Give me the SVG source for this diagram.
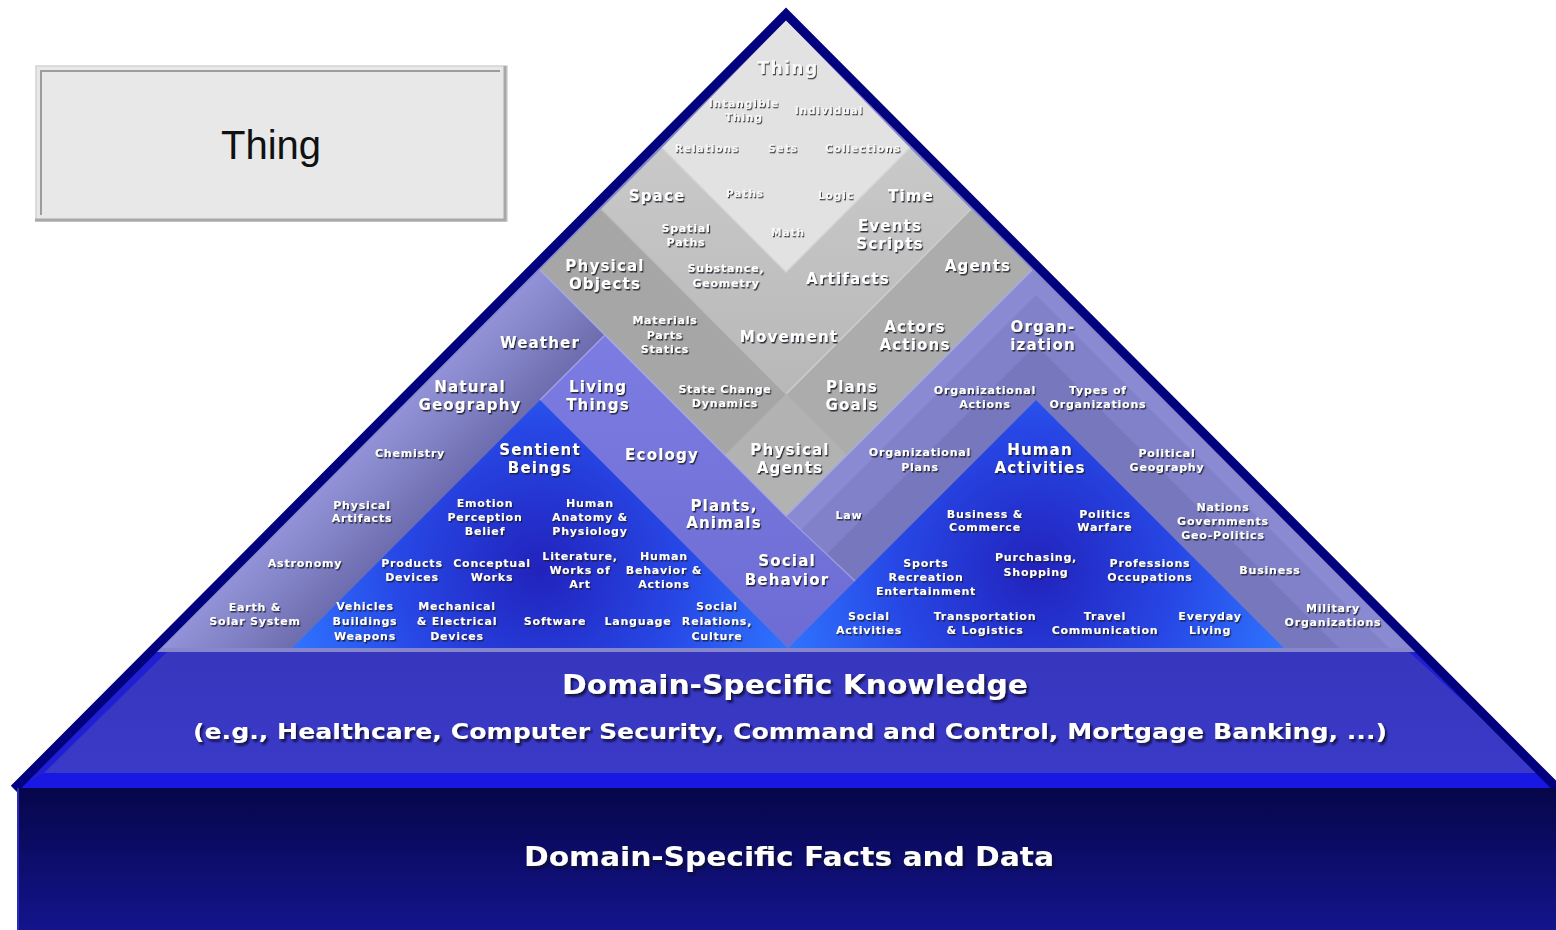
<svg xmlns="http://www.w3.org/2000/svg" width="1556" height="930" viewBox="0 0 1556 930">
<defs>
<style>
text{font-family:"DejaVu Sans",Verdana,sans-serif;font-weight:bold;text-anchor:middle}
.b{font-size:15px;letter-spacing:1.2px;fill:#ffffff;filter:url(#sh)}
.s{font-size:11px;letter-spacing:0.8px;fill:#ffffff;filter:url(#sh)}
.lb{font-size:17px;letter-spacing:1.5px;fill:#f8f8f8;filter:url(#sh2)}
.ls{font-size:10.5px;letter-spacing:1px;fill:#f8f8f8;filter:url(#sh2)}
.dom{fill:#ffffff;filter:url(#sh3)}
.thing{font-family:"Liberation Sans",Arial,sans-serif;font-weight:normal;font-size:40px;fill:#111111}
.edge{fill:none;stroke-width:1.5}
</style>
<filter id="sh" x="-20%" y="-50%" width="140%" height="200%"><feDropShadow dx="1.2" dy="1.5" stdDeviation="0.35" flood-color="#1c1c2c" flood-opacity="0.9"/></filter>
<filter id="sh2" x="-20%" y="-50%" width="140%" height="200%"><feDropShadow dx="1" dy="1.3" stdDeviation="0.3" flood-color="#3a3a3a" flood-opacity="0.95"/></filter>
<filter id="sh3" x="-10%" y="-50%" width="120%" height="200%"><feDropShadow dx="2" dy="2.5" stdDeviation="0.8" flood-color="#0a0a30" flood-opacity="0.95"/></filter>
<linearGradient id="gStrip" gradientUnits="userSpaceOnUse" x1="405" y1="405" x2="470" y2="470">
<stop offset="0" stop-color="#9292d8"/><stop offset="0.5" stop-color="#8080c4"/><stop offset="1" stop-color="#6c6cae"/>
</linearGradient>
<linearGradient id="gLav" x1="0" y1="0" x2="0" y2="1">
<stop offset="0" stop-color="#7c7ce2"/><stop offset="1" stop-color="#6c6cd4"/>
</linearGradient>
<linearGradient id="gGray" gradientUnits="userSpaceOnUse" x1="0" y1="120" x2="0" y2="460">
<stop offset="0" stop-color="#cbcbcb"/><stop offset="1" stop-color="#b3b3b3"/>
</linearGradient>
<radialGradient id="gBlueL" gradientUnits="userSpaceOnUse" cx="540" cy="570" r="260">
<stop offset="0" stop-color="#2222bc"/><stop offset="0.55" stop-color="#2748e6"/><stop offset="1" stop-color="#2f74ff"/>
</radialGradient>
<radialGradient id="gBlueR" gradientUnits="userSpaceOnUse" cx="1036" cy="570" r="260">
<stop offset="0" stop-color="#2222bc"/><stop offset="0.55" stop-color="#2748e6"/><stop offset="1" stop-color="#2f74ff"/>
</radialGradient>
<linearGradient id="gPanel" x1="0" y1="0" x2="0" y2="1">
<stop offset="0" stop-color="#3636be"/><stop offset="1" stop-color="#3a3ac8"/>
</linearGradient>
<linearGradient id="gBase" x1="0" y1="0" x2="0" y2="1">
<stop offset="0" stop-color="#06064a"/><stop offset="1" stop-color="#14148e"/>
</linearGradient>
<clipPath id="cpRP"><polygon points="1032,270 1410,648 1284,648 1036,400 855,581 786,516"/></clipPath>
</defs>

<rect x="0" y="0" width="1556" height="930" fill="#ffffff"/>

<g id="legend-thing">
<rect x="36" y="66" width="471" height="155" fill="#e8e8e8" stroke="#d2d2d2" stroke-width="1.5"/>
<polyline points="41,215 41,71 500,71" fill="none" stroke="#9c9c9c" stroke-width="2"/>
<polyline points="35,220 505,220 505,66" fill="none" stroke="#a8a8a8" stroke-width="3"/>
<text class="thing" x="271" y="159">Thing</text>
</g>

<g id="domain-knowledge-band">
<polygon points="156,648 1416,648 1556,788 14,788" fill="#2020d2"/>
<polygon points="168,651 1408,651 1542,773 44,773" fill="url(#gPanel)"/>
<polygon points="44,773 1542,773 1556,788 14,788" fill="#1818e2"/>
</g>

<g id="ontology-regions">
<polygon points="786,16 150,652 1422,652" fill="#8686cc"/>
<polygon id="r-left-strip" points="540,270 605,335 292,648 162,648" fill="url(#gStrip)"/>
<polygon id="r-left-lavender" points="605,335 786,516 855,581 788,648 540,400" fill="url(#gLav)"/>
<g id="r-right-purple" clip-path="url(#cpRP)">
<polygon points="1032,270 1410,648 1284,648 1036,400 855,581 786,516" fill="#8a8ad2"/>
<polygon points="1036,295 1389,648 683,648" fill="#8181c9"/>
<polygon points="1036,345 1339,648 733,648" fill="#7777bd"/>
</g>
<polygon id="r-gray" points="540,270 786,24 1032,270 786,516" fill="url(#gGray)"/>
<polygon id="r-gray-ll" points="540,270 601,209 847,455 786,516" fill="#a6a6a6"/>
<polygon id="r-gray-lr" points="1032,270 971,209 725,455 786,516" fill="#acacac"/>
<polygon id="r-gray-bottom" points="786,394 847,455 786,516 725,455" fill="#b2b2b2"/>
<polygon id="r-light" points="786,20 662,148 786,272 910,148" fill="#e2e2e2"/>
<polygon id="r-blue-left" points="540,400 788,648 292,648" fill="url(#gBlueL)"/>
<polygon id="r-blue-right" points="1036,400 1284,648 788,648" fill="url(#gBlueR)"/>
</g>

<g id="boundary-lines">
<polyline class="edge" points="662,148 786,272 910,148" stroke="#d4d4d4"/>
<line class="edge" x1="971" y1="209" x2="786" y2="394" stroke="#cdcdcd"/>
<line class="edge" x1="601" y1="209" x2="786" y2="394" stroke="#b9b9b9"/>
<polyline class="edge" points="540,270 786,516 1032,270" stroke="#a8a8e6"/>
<line class="edge" x1="786" y1="516" x2="855" y2="581" stroke="#9a9ae0"/>
<line class="edge" x1="605" y1="335" x2="540" y2="400" stroke="#a0a0ea"/>
</g>

<polyline id="pyramid-outline" points="14,789 786,14 1558,789" fill="none" stroke="#02027e" stroke-width="9" stroke-linejoin="miter"/>

<g id="domain-facts-base">
<rect x="17" y="788" width="1545" height="145" fill="url(#gBase)"/>
<line x1="18" y1="788" x2="18" y2="930" stroke="#2a2ab8" stroke-width="2"/>
</g>

<g id="labels-light">
<g id="n-thing"><text class="lb" x="788" y="74">Thing</text></g>
<g id="n-intangible"><text class="ls" x="744" y="107"><tspan x="744">Intangible</tspan><tspan x="744" dy="14">Thing</tspan></text></g>
<g id="n-individual"><text class="ls" x="829" y="114">Individual</text></g>
<g id="n-relations"><text class="ls" x="707" y="152">Relations</text></g>
<g id="n-sets"><text class="ls" x="783" y="152">Sets</text></g>
<g id="n-collections"><text class="ls" x="863" y="152">Collections</text></g>
<g id="n-paths"><text class="ls" x="745" y="197">Paths</text></g>
<g id="n-logic"><text class="ls" x="836" y="199">Logic</text></g>
<g id="n-math"><text class="ls" x="788" y="236">Math</text></g>
</g>

<g id="labels-gray">
<g id="n-space"><text class="b" x="657" y="201">Space</text></g>
<g id="n-time"><text class="b" x="911" y="201">Time</text></g>
<g id="n-spatial-paths"><text class="s" x="686" y="232"><tspan x="686">Spatial</tspan><tspan x="686" dy="14">Paths</tspan></text></g>
<g id="n-events"><text class="b" x="890" y="231"><tspan x="890">Events</tspan><tspan x="890" dy="18">Scripts</tspan></text></g>
<g id="n-physical-objects"><text class="b" x="605" y="271"><tspan x="605">Physical</tspan><tspan x="605" dy="18">Objects</tspan></text></g>
<g id="n-substance"><text class="s" x="726" y="272"><tspan x="726">Substance,</tspan><tspan x="726" dy="15">Geometry</tspan></text></g>
<g id="n-artifacts"><text class="b" x="848" y="284">Artifacts</text></g>
<g id="n-agents"><text class="b" x="978" y="271">Agents</text></g>
<g id="n-materials"><text class="s" x="665" y="324"><tspan x="665">Materials</tspan><tspan x="665" dy="15">Parts</tspan><tspan x="665" dy="14">Statics</tspan></text></g>
<g id="n-movement"><text class="b" x="789" y="342">Movement</text></g>
<g id="n-actors"><text class="b" x="915" y="332"><tspan x="915">Actors</tspan><tspan x="915" dy="18">Actions</tspan></text></g>
<g id="n-state-change"><text class="s" x="725" y="393"><tspan x="725">State Change</tspan><tspan x="725" dy="14">Dynamics</tspan></text></g>
<g id="n-plans-goals"><text class="b" x="852" y="392"><tspan x="852">Plans</tspan><tspan x="852" dy="18">Goals</tspan></text></g>
<g id="n-physical-agents"><text class="b" x="790" y="455"><tspan x="790">Physical</tspan><tspan x="790" dy="18">Agents</tspan></text></g>
</g>

<g id="labels-purple-blue">
<g id="n-organization"><text class="b" x="1043" y="332"><tspan x="1043">Organ-</tspan><tspan x="1043" dy="18">ization</tspan></text></g>
<g id="n-weather"><text class="b" x="540" y="348">Weather</text></g>
<g id="n-natural-geography"><text class="b" x="470" y="392"><tspan x="470">Natural</tspan><tspan x="470" dy="18">Geography</tspan></text></g>
<g id="n-living-things"><text class="b" x="598" y="392"><tspan x="598">Living</tspan><tspan x="598" dy="18">Things</tspan></text></g>
<g id="n-org-actions"><text class="s" x="985" y="394"><tspan x="985">Organizational</tspan><tspan x="985" dy="14">Actions</tspan></text></g>
<g id="n-types-org"><text class="s" x="1098" y="394"><tspan x="1098">Types of</tspan><tspan x="1098" dy="14">Organizations</tspan></text></g>
<g id="n-chemistry"><text class="s" x="410" y="457">Chemistry</text></g>
<g id="n-sentient"><text class="b" x="540" y="455"><tspan x="540">Sentient</tspan><tspan x="540" dy="18">Beings</tspan></text></g>
<g id="n-ecology"><text class="b" x="662" y="460">Ecology</text></g>
<g id="n-org-plans"><text class="s" x="920" y="456"><tspan x="920">Organizational</tspan><tspan x="920" dy="15">Plans</tspan></text></g>
<g id="n-human-activities"><text class="b" x="1040" y="455"><tspan x="1040">Human</tspan><tspan x="1040" dy="18">Activities</tspan></text></g>
<g id="n-political-geography"><text class="s" x="1167" y="457"><tspan x="1167">Political</tspan><tspan x="1167" dy="14">Geography</tspan></text></g>
<g id="n-physical-artifacts"><text class="s" x="362" y="509"><tspan x="362">Physical</tspan><tspan x="362" dy="13">Artifacts</tspan></text></g>
<g id="n-emotion"><text class="s" x="485" y="507"><tspan x="485">Emotion</tspan><tspan x="485" dy="14">Perception</tspan><tspan x="485" dy="14">Belief</tspan></text></g>
<g id="n-anatomy"><text class="s" x="590" y="507"><tspan x="590">Human</tspan><tspan x="590" dy="14">Anatomy &amp;</tspan><tspan x="590" dy="14">Physiology</tspan></text></g>
<g id="n-plants"><text class="b" x="724" y="511"><tspan x="724">Plants,</tspan><tspan x="724" dy="17">Animals</tspan></text></g>
<g id="n-law"><text class="s" x="849" y="519">Law</text></g>
<g id="n-business-commerce"><text class="s" x="985" y="518"><tspan x="985">Business &amp;</tspan><tspan x="985" dy="13">Commerce</tspan></text></g>
<g id="n-politics"><text class="s" x="1105" y="518"><tspan x="1105">Politics</tspan><tspan x="1105" dy="13">Warfare</tspan></text></g>
<g id="n-nations"><text class="s" x="1223" y="511"><tspan x="1223">Nations</tspan><tspan x="1223" dy="14">Governments</tspan><tspan x="1223" dy="14">Geo-Politics</tspan></text></g>
<g id="n-astronomy"><text class="s" x="305" y="567">Astronomy</text></g>
<g id="n-products"><text class="s" x="412" y="567"><tspan x="412">Products</tspan><tspan x="412" dy="14">Devices</tspan></text></g>
<g id="n-conceptual"><text class="s" x="492" y="567"><tspan x="492">Conceptual</tspan><tspan x="492" dy="14">Works</tspan></text></g>
<g id="n-literature"><text class="s" x="580" y="560"><tspan x="580">Literature,</tspan><tspan x="580" dy="14">Works of</tspan><tspan x="580" dy="14">Art</tspan></text></g>
<g id="n-human-behavior"><text class="s" x="664" y="560"><tspan x="664">Human</tspan><tspan x="664" dy="14">Behavior &amp;</tspan><tspan x="664" dy="14">Actions</tspan></text></g>
<g id="n-social-behavior"><text class="b" x="787" y="566"><tspan x="787">Social</tspan><tspan x="787" dy="19">Behavior</tspan></text></g>
<g id="n-sports"><text class="s" x="926" y="567"><tspan x="926">Sports</tspan><tspan x="926" dy="14">Recreation</tspan><tspan x="926" dy="14">Entertainment</tspan></text></g>
<g id="n-purchasing"><text class="s" x="1036" y="561"><tspan x="1036">Purchasing,</tspan><tspan x="1036" dy="15">Shopping</tspan></text></g>
<g id="n-professions"><text class="s" x="1150" y="567"><tspan x="1150">Professions</tspan><tspan x="1150" dy="14">Occupations</tspan></text></g>
<g id="n-business"><text class="s" x="1270" y="574">Business</text></g>
<g id="n-earth"><text class="s" x="255" y="611"><tspan x="255">Earth &amp;</tspan><tspan x="255" dy="14">Solar System</tspan></text></g>
<g id="n-vehicles"><text class="s" x="365" y="610"><tspan x="365">Vehicles</tspan><tspan x="365" dy="15">Buildings</tspan><tspan x="365" dy="15">Weapons</tspan></text></g>
<g id="n-mechanical"><text class="s" x="457" y="610"><tspan x="457">Mechanical</tspan><tspan x="457" dy="15">&amp; Electrical</tspan><tspan x="457" dy="15">Devices</tspan></text></g>
<g id="n-software"><text class="s" x="555" y="625">Software</text></g>
<g id="n-language"><text class="s" x="638" y="625">Language</text></g>
<g id="n-social-relations"><text class="s" x="717" y="610"><tspan x="717">Social</tspan><tspan x="717" dy="15">Relations,</tspan><tspan x="717" dy="15">Culture</tspan></text></g>
<g id="n-social-activities"><text class="s" x="869" y="620"><tspan x="869">Social</tspan><tspan x="869" dy="14">Activities</tspan></text></g>
<g id="n-transportation"><text class="s" x="985" y="620"><tspan x="985">Transportation</tspan><tspan x="985" dy="14">&amp; Logistics</tspan></text></g>
<g id="n-travel"><text class="s" x="1105" y="620"><tspan x="1105">Travel</tspan><tspan x="1105" dy="14">Communication</tspan></text></g>
<g id="n-everyday"><text class="s" x="1210" y="620"><tspan x="1210">Everyday</tspan><tspan x="1210" dy="14">Living</tspan></text></g>
<g id="n-military"><text class="s" x="1333" y="612"><tspan x="1333">Military</tspan><tspan x="1333" dy="14">Organizations</tspan></text></g>
</g>

<g id="labels-domain">
<g id="n-domain-knowledge"><text class="dom" x="795" y="694" font-size="27" textLength="466" lengthAdjust="spacingAndGlyphs">Domain-Specific Knowledge</text>
<text class="dom" x="790" y="739" font-size="22" textLength="1194" lengthAdjust="spacingAndGlyphs">(e.g., Healthcare, Computer Security, Command and Control, Mortgage Banking, ...)</text></g>
<g id="n-domain-facts"><text class="dom" x="789" y="866" font-size="27" textLength="530" lengthAdjust="spacingAndGlyphs">Domain-Specific Facts and Data</text></g>
</g>
</svg>
